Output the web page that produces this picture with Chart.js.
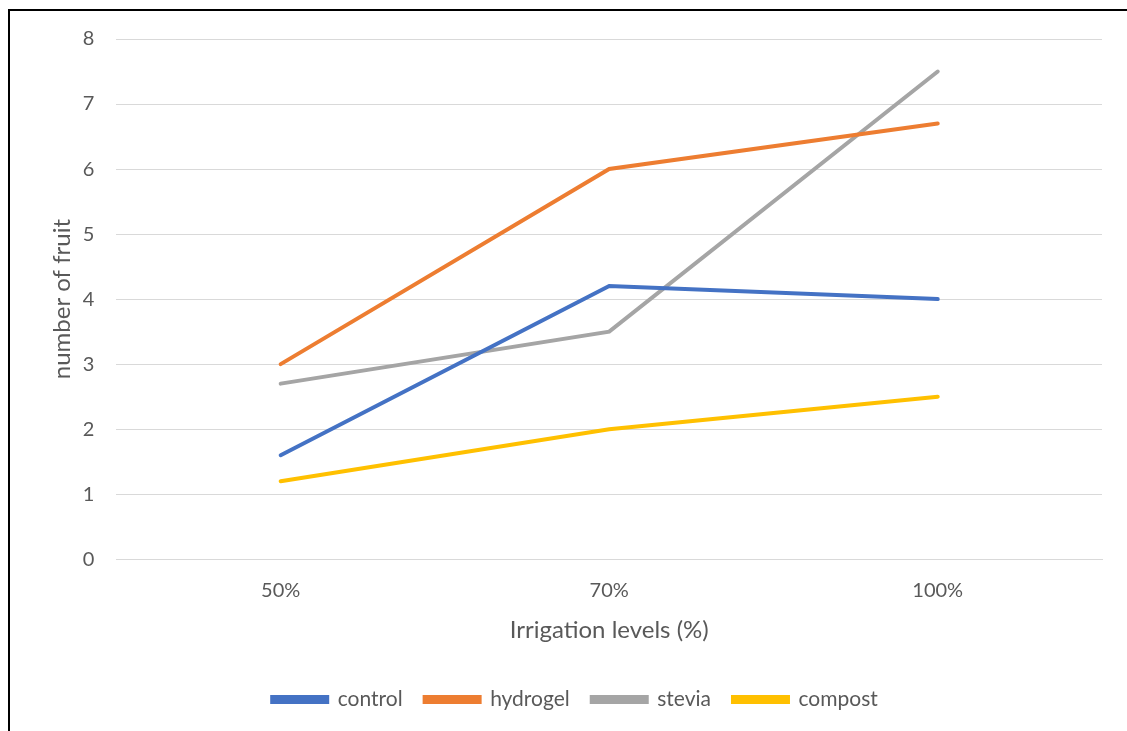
<!DOCTYPE html>
<html>
<head>
<meta charset="utf-8">
<script src="https://cdn.jsdelivr.net/npm/chart.js@4"></script>
<style>
  html, body { margin: 0; padding: 0; background: #fff; overflow: hidden; }
  #wrap { position: relative; width: 1127px; height: 731px; }
  #frame {
    position: absolute; left: 8px; top: 9px; width: 1200px; height: 800px;
    border-left: 2px solid #000; border-top: 2px solid #000; pointer-events: none;
  }
</style>
</head>
<body>
<div id="wrap">
  <canvas id="chart" width="1127" height="731"></canvas>
  <div id="frame"></div>
</div>
<script>
// Irrigation levels and fruit counts per treatment
const levels = ['50%', '70%', '100%'];
const control = [1.6, 4.2, 4.0];
const hydrogel = [3.0, 6.0, 6.7];
const stevia = [2.7, 3.5, 7.5];
const compost = [1.2, 2.0, 2.5];

const textColor = '#595959';
const fontFamily = 'Lato, "Open Sans", sans-serif';

function series(label, data, color) {
  return {
    label: label,
    data: data,
    borderColor: color,
    backgroundColor: color,
    borderWidth: 4,
    pointRadius: 0,
    tension: 0,
    borderCapStyle: 'round'
  };
}

const chart = new Chart(document.getElementById('chart'), {
  type: 'line',
  data: {
    labels: levels,
    datasets: [
      series('control', control, '#4472C4'),
      series('hydrogel', hydrogel, '#ED7D31'),
      series('stevia', stevia, '#A5A5A5'),
      series('compost', compost, '#FFC000')
    ]
  },
  options: {
    responsive: false,
    animation: false,
    layout: { padding: { top: 39, right: 25, left: 48, bottom: 11 } },
    plugins: {
      legend: {
        position: 'bottom',
        labels: {
          color: textColor,
          font: { family: fontFamily, size: 21 },
          boxWidth: 55,
          boxHeight: 5,
          padding: 22
        }
      },
      tooltip: { enabled: false }
    },
    scales: {
      x: {
        offset: true,
        grid: { display: false },
        border: { color: '#d9d9d9', width: 1 },
        ticks: { color: textColor, font: { family: fontFamily, size: 20 }, padding: 11 },
        title: {
          display: true,
          text: 'Irrigation levels (%)',
          color: textColor,
          font: { family: fontFamily, size: 24 },
          padding: { top: 3, bottom: 22 }
        }
      },
      y: {
        min: 0,
        max: 8,
        ticks: { stepSize: 1, color: textColor, font: { family: fontFamily, size: 20 }, padding: 22 },
        grid: { color: '#d9d9d9', lineWidth: 1, drawTicks: false },
        border: { display: false },
        title: {
          display: true,
          text: 'number of fruit',
          color: textColor,
          font: { family: fontFamily, size: 24 },
          padding: { top: 0, bottom: -16 }
        }
      }
    }
  }
});
</script>
</body>
</html>
